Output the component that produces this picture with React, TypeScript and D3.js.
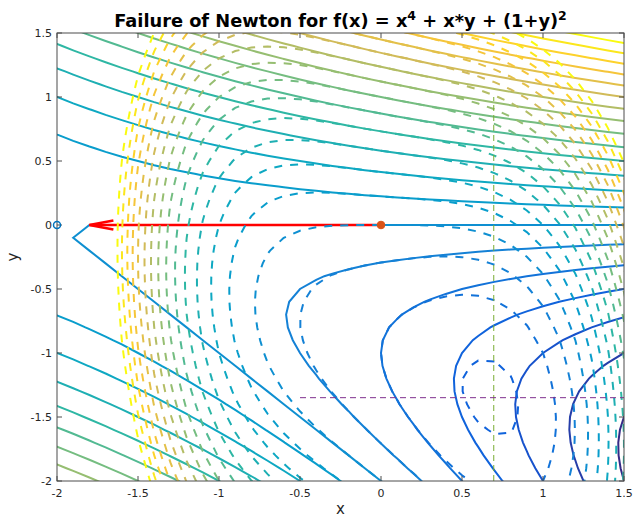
import React, { useEffect, useRef } from 'react';
import * as d3 from 'd3';

// axis ranges and ticks
const xDomain = [-2, 1.5];
const yDomain = [-2, 1.5];
const xTicks = [-2, -1.5, -1, -0.5, 0, 0.5, 1, 1.5];
const yTicks = [-2, -1.5, -1, -0.5, 0, 0.5, 1, 1.5];
const tickLabels = ['-2', '-1.5', '-1', '-0.5', '0', '0.5', '1', '1.5'];

// contour levels shared by f (dashed) and its quadratic model (solid)
const levels = [-2, -1.5, -1, -0.5, 0, 0.5, 1, 1.5, 2, 2.5, 3, 3.5, 4, 4.5, 5, 5.5, 6, 6.5, 7, 7.5, 8];
const gridStep = 0.1;

// Newton iterate and step
const newtonStart = [0, 0];
const newtonNext = [-2, 0];
const arrowTip = [-1.8, 0];
// true minimiser of f, with its guide lines
const minimizer = [0.696, -1.349];
const minLineX = [-0.5, 1.5];
const minLineY = [-2, 1];

// parula colormap stops
const parula = [
  '#352a87', '#0f5cdd', '#1481d6', '#06a4ca', '#2eb7a4', '#87bf77',
  '#d1bb59', '#fec832', '#f9fb0e',
];

const f = (x, y) => x ** 4 + x * y + (1 + y) ** 2;
// quadratic model of f around newtonStart
const model = (x, y) => {
  const [x0, y0] = newtonStart;
  const f0 = f(x0, y0);
  const gx = 4 * x0 ** 3 + y0;
  const gy = x0 + 2 * (1 + y0);
  const hxx = 12 * x0 * x0, hxy = 1, hyy = 2;
  const dx = x - x0, dy = y - y0;
  return f0 + gx * dx + gy * dy + 0.5 * (hxx * dx * dx + 2 * hxy * dx * dy + hyy * dy * dy);
};

const W = 634, H = 518;
const M = { left: 57, right: 624, top: 33, bottom: 481 };

const App = () => {
  const ref = useRef(null);

  useEffect(() => {
    const svg = d3.select(ref.current);
    svg.selectAll('*').remove();

    const xs = d3.scaleLinear().domain(xDomain).range([M.left, M.right]);
    const ys = d3.scaleLinear().domain(yDomain).range([M.bottom, M.top]);
    const cmap = d3.piecewise(d3.interpolateRgb, parula);
    const color = v => cmap((v - levels[0]) / (levels[levels.length - 1] - levels[0]));

    svg.append('defs').append('clipPath').attr('id', 'plotclip')
      .append('rect')
      .attr('x', M.left).attr('y', M.top)
      .attr('width', M.right - M.left).attr('height', M.bottom - M.top);

    // sample grid, padded past the axes so the border edges get clipped
    const pad = 2;
    const nx = Math.round((xDomain[1] - xDomain[0]) / gridStep) + 1 + 2 * pad;
    const ny = Math.round((yDomain[1] - yDomain[0]) / gridStep) + 1 + 2 * pad;
    const gx = j => Math.round((xDomain[0] + (j - pad) * gridStep) * 1e9) / 1e9;
    const gy = i => Math.round((yDomain[0] + (i - pad) * gridStep) * 1e9) / 1e9;

    const gridOf = fn => {
      const vals = new Array(nx * ny);
      for (let i = 0; i < ny; i++)
        for (let j = 0; j < nx; j++) vals[i * nx + j] = fn(gx(j), gy(i));
      return vals;
    };

    const proj = d3.geoTransform({
      point: function (px, py) {
        this.stream.point(xs(gx(0) + (px - 0.5) * gridStep), ys(gy(0) + (py - 0.5) * gridStep));
      },
    });
    const path = d3.geoPath(proj);
    const contours = d3.contours().size([nx, ny]).thresholds(levels);

    const plot = svg.append('g').attr('clip-path', 'url(#plotclip)');

    // solid: quadratic model
    plot.append('g').selectAll('path')
      .data(contours(gridOf(model)))
      .enter().append('path')
      .attr('d', path)
      .attr('fill', 'none')
      .attr('stroke', d => color(d.value))
      .attr('stroke-width', 2);

    // Newton step arrow
    const tx = xs(arrowTip[0]), ty = ys(arrowTip[1]);
    const arrow = plot.append('g').attr('stroke', '#ff0000').attr('stroke-width', 2.5).attr('fill', 'none');
    arrow.append('line')
      .attr('x1', xs(newtonStart[0])).attr('y1', ys(newtonStart[1]))
      .attr('x2', tx).attr('y2', ty);
    arrow.append('path')
      .attr('d', `M${tx + 24},${ty - 4.5}L${tx},${ty}L${tx + 24},${ty + 4.5}`);

    // dashed: f itself
    plot.append('g').selectAll('path')
      .data(contours(gridOf(f)))
      .enter().append('path')
      .attr('d', path)
      .attr('fill', 'none')
      .attr('stroke', d => color(d.value))
      .attr('stroke-width', 2)
      .attr('stroke-dasharray', '8,8');

    // minimiser guide lines
    plot.append('line')
      .attr('x1', xs(minimizer[0])).attr('x2', xs(minimizer[0]))
      .attr('y1', ys(minLineY[0])).attr('y2', ys(minLineY[1]))
      .attr('stroke', '#77ac30').attr('stroke-width', 1).attr('stroke-dasharray', '6,4');
    plot.append('line')
      .attr('x1', xs(minLineX[0])).attr('x2', xs(minLineX[1]))
      .attr('y1', ys(minimizer[1])).attr('y2', ys(minimizer[1]))
      .attr('stroke', '#7e2f8e').attr('stroke-width', 1).attr('stroke-dasharray', '6,4');

    // axes box and ticks
    const ax = svg.append('g').attr('stroke', '#4d4d4d').attr('stroke-width', 1).attr('fill', 'none');
    ax.append('rect')
      .attr('x', M.left).attr('y', M.top)
      .attr('width', M.right - M.left).attr('height', M.bottom - M.top);
    const tl = 5;
    xTicks.forEach(t => {
      ax.append('line').attr('x1', xs(t)).attr('x2', xs(t)).attr('y1', M.bottom).attr('y2', M.bottom - tl);
      ax.append('line').attr('x1', xs(t)).attr('x2', xs(t)).attr('y1', M.top).attr('y2', M.top + tl);
    });
    yTicks.forEach(t => {
      ax.append('line').attr('y1', ys(t)).attr('y2', ys(t)).attr('x1', M.left).attr('x2', M.left + tl);
      ax.append('line').attr('y1', ys(t)).attr('y2', ys(t)).attr('x1', M.right).attr('x2', M.right - tl);
    });

    const font = "'DejaVu Sans', sans-serif";
    svg.append('g').selectAll('text')
      .data(xTicks).enter().append('text')
      .attr('x', d => xs(d)).attr('y', M.bottom + 16)
      .attr('text-anchor', 'middle')
      .attr('font-family', font).attr('font-size', 11).attr('fill', '#262626')
      .text((d, i) => tickLabels[i]);
    svg.append('g').selectAll('text')
      .data(yTicks).enter().append('text')
      .attr('x', M.left - 5).attr('y', d => ys(d) + 4)
      .attr('text-anchor', 'end')
      .attr('font-family', font).attr('font-size', 11).attr('fill', '#262626')
      .text((d, i) => tickLabels[i]);

    // markers
    svg.append('circle')
      .attr('cx', xs(newtonNext[0])).attr('cy', ys(newtonNext[1])).attr('r', 3.5)
      .attr('fill', 'none').attr('stroke', '#0072bd').attr('stroke-width', 1.5);
    svg.append('circle')
      .attr('cx', xs(newtonStart[0])).attr('cy', ys(newtonStart[1])).attr('r', 3.8)
      .attr('fill', '#d95319').attr('stroke', '#d95319');

    // labels
    svg.append('text')
      .attr('x', (M.left + M.right) / 2).attr('y', 514)
      .attr('text-anchor', 'middle')
      .attr('font-family', font).attr('font-size', 15).attr('fill', '#262626')
      .text('x');
    svg.append('text')
      .attr('transform', `translate(18,${(M.top + M.bottom) / 2}) rotate(-90)`)
      .attr('text-anchor', 'middle')
      .attr('font-family', font).attr('font-size', 15).attr('fill', '#262626')
      .text('y');

    const title = svg.append('text')
      .attr('x', (M.left + M.right) / 2).attr('y', 27)
      .attr('text-anchor', 'middle')
      .attr('font-family', font).attr('font-weight', 'bold').attr('font-size', 17.8)
      .attr('fill', '#000');
    title.append('tspan').text('Failure of Newton for f(x) = x');
    title.append('tspan').attr('dy', -7).attr('font-size', 12.5).text('4');
    title.append('tspan').attr('dy', 7).text(' + x*y + (1+y)');
    title.append('tspan').attr('dy', -7).attr('font-size', 12.5).text('2');
  }, []);

  return (
    <svg ref={ref} width={W} height={H}
      style={{ position: 'absolute', left: 0, top: 0, background: '#fff' }} />
  );
};

export default App;
